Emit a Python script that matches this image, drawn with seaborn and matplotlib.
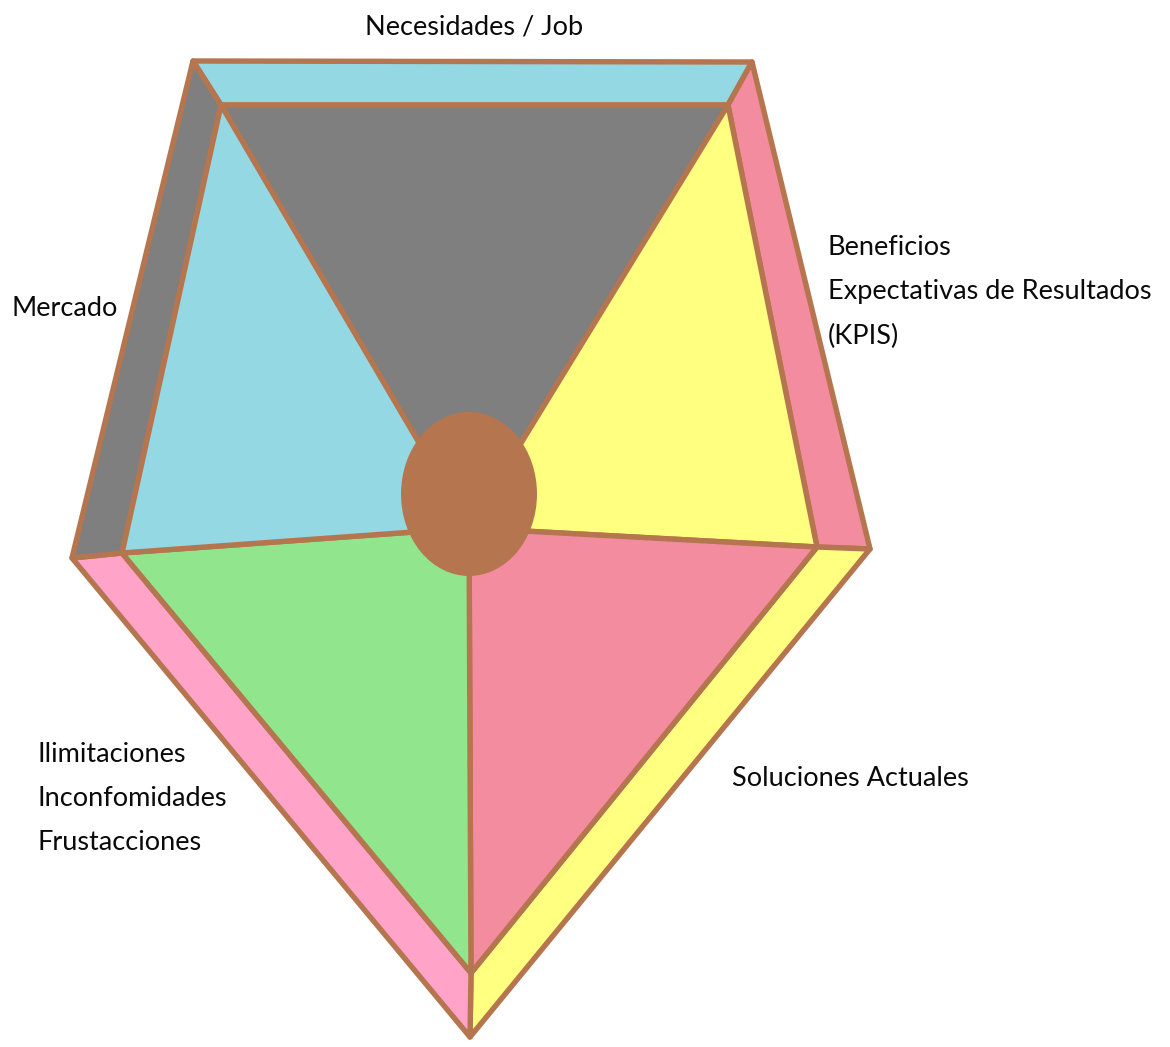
import matplotlib
matplotlib.use("Agg")
import matplotlib.pyplot as plt
from matplotlib.patches import Ellipse
import seaborn as sns

# pentagon corners in image pixels, order: top-left, top-right, right, bottom, left
outer_x = [193, 752, 870, 470, 72]
outer_y = [61, 62, 549, 1037, 558]
inner_x = [221, 728, 817, 471, 122]
inner_y = [105, 105, 547, 973, 553]
hub_x, hub_y = 469, 528

# frame band between corner i and i+1, then inner wedge between corner i and i+1
band_colors = ["#94D8E4", "#F48CA0", "#FFFF80", "#FFA3C8", "#7F7F7F"]
wedge_colors = ["#7F7F7F", "#FFFF80", "#F48CA0", "#91E68D", "#94D8E4"]
edge_color = "#B5764F"

labels = ["Necesidades / Job",
          "Beneficios\nExpectativas de Resultados\n(KPIS)",
          "Mercado",
          "Ilimitaciones\nInconfomidades\nFrustacciones",
          "Soluciones Actuales"]
label_x = [474, 828, 12, 38, 732]
label_y = [27, 292, 309, 798, 778]
label_ha = ["center", "left", "left", "left", "left"]

sns.set_theme(style="white")
plt.rcParams['font.family'] = ['Lato', 'DejaVu Sans']

fig = plt.figure(figsize=(11.7, 10.47), dpi=100)
ax = fig.add_axes([0, 0, 1, 1])
ax.set_xlim(0, 1170)
ax.set_ylim(1047, 0)
ax.axis("off")

n = len(outer_x)
for i in range(n):
    j = (i + 1) % n
    ax.fill([outer_x[i], outer_x[j], inner_x[j], inner_x[i]],
            [outer_y[i], outer_y[j], inner_y[j], inner_y[i]],
            facecolor=band_colors[i], edgecolor=edge_color, linewidth=3.9,
            joinstyle="round")
    ax.fill([inner_x[i], inner_x[j], hub_x],
            [inner_y[i], inner_y[j], hub_y],
            facecolor=wedge_colors[i], edgecolor=edge_color, linewidth=3.9,
            joinstyle="round")

ax.add_patch(Ellipse((469, 494), 136, 164, facecolor=edge_color, edgecolor="none"))

for txt, x, y, ha in zip(labels, label_x, label_y, label_ha):
    ax.text(x, y, txt, ha=ha, va="center", fontsize=19.5, color="#0A0A0A",
            linespacing=1.95)

fig.savefig("out.png", dpi=100)
